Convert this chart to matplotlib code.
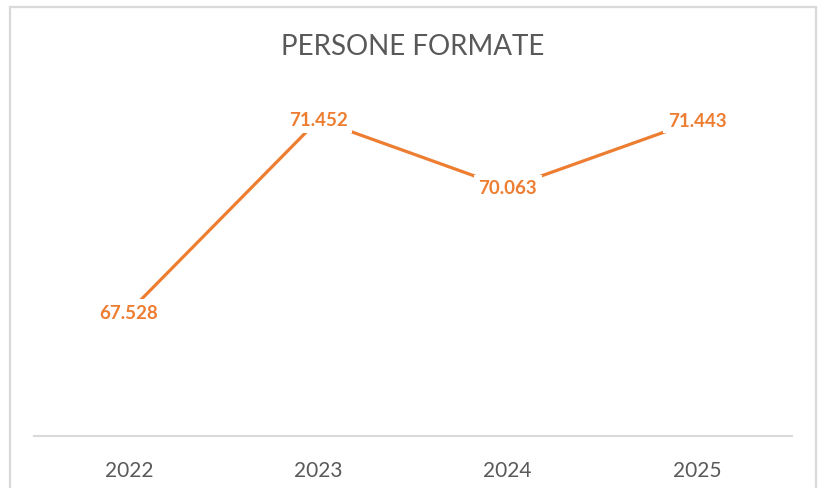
import matplotlib
matplotlib.use("Agg")
import matplotlib.pyplot as plt
from matplotlib.patches import Rectangle

years = ["2022", "2023", "2024", "2025"]
values = [67.528, 71.452, 70.063, 71.443]
labels = ["67.528", "71.452", "70.063", "71.443"]

W, H = 819, 489
fig = plt.figure(figsize=(W / 100, H / 100), dpi=100)
fig.patch.set_facecolor("white")

# outer chart border
fig.patches.append(Rectangle((9.5 / W, -0.05), (816 - 9.5) / W, 1.05 - 7.5 / H,
                             transform=fig.transFigure, fill=False,
                             edgecolor="#D9D9D9", linewidth=1.6, zorder=0))

ax = fig.add_axes([34 / W, (H - 437) / H, 758 / W, 343 / H])
x = list(range(len(years)))
ax.plot(x, values, color="#ED7D31", linewidth=2.3, solid_capstyle="round", zorder=2)
for xi, v, t in zip(x, values, labels):
    ax.text(xi, v, t, ha="center", va="center", color="#ED7D31",
            fontsize=13.5, fontweight="bold", family="Lato",
            bbox=dict(boxstyle="square,pad=0.25", facecolor="white", edgecolor="none"),
            zorder=3)

ax.set_xlim(-0.5, 3.5)
ax.set_ylim(65, 72)
ax.set_xticks(x)
ax.set_xticklabels(years, fontsize=15, color="#595959", family="Lato")
ax.tick_params(axis="x", length=0, pad=17)
ax.set_yticks([])
for s in ["top", "left", "right"]:
    ax.spines[s].set_visible(False)
ax.spines["bottom"].set_color("#D9D9D9")
ax.spines["bottom"].set_linewidth(1.5)

fig.text(413 / W, 1 - 47 / H, "PERSONE FORMATE", ha="center", va="center",
         fontsize=20, color="#595959", family="Lato")

fig.savefig("out.png", dpi=100, facecolor="white")
